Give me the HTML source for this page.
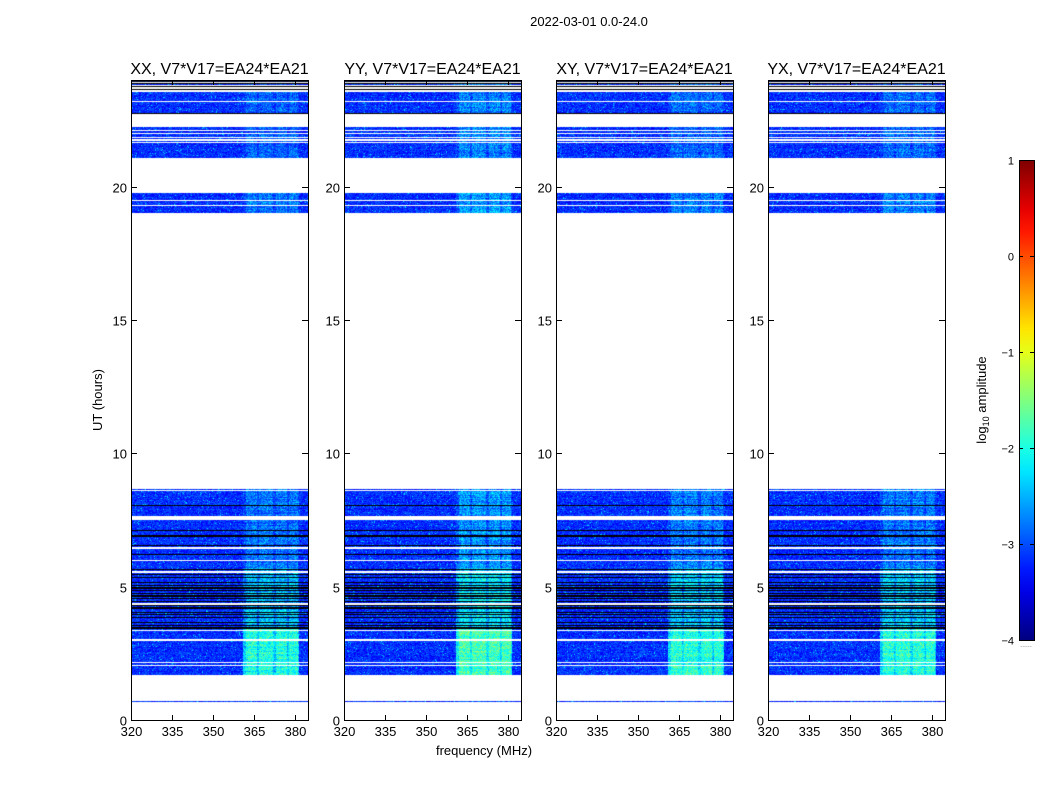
<!DOCTYPE html>
<html><head><meta charset="utf-8">
<style>
body{margin:0;background:#fff;width:1050px;height:800px;position:relative;overflow:hidden;font-family:"Liberation Sans","DejaVu Sans",sans-serif;}
canvas{position:absolute;z-index:1;}
svg{position:absolute;left:0;top:0;z-index:2;}
</style></head>
<body>
<svg id="svg" width="1050" height="800"></svg>
<script>
// ---- data ----
const panelTitles = ["XX, V7*V17=EA24*EA21","YY, V7*V17=EA24*EA21","XY, V7*V17=EA24*EA21","YX, V7*V17=EA24*EA21"];
const panelBoost = [0, 0.2, 0.05, 0.05];
const xTicks = [320,335,350,365,380];
const yTicks = [0,5,10,15,20];
const cbTicks = [1,0,-1,-2,-3,-4];
// observed time segments (hours)
const segStart = [0.66, 1.7, 7.66, 19.0, 21.07, 22.73, 23.0, 23.62];
const segEnd   = [0.73, 7.5, 8.68, 19.76, 22.24, 22.97, 23.55, 24.0];
// white gaps inside segments (hours)
const whiteLines = [2.05,2.15,3.0,3.35,4.35,5.55,5.98,6.45,8.62,19.3,19.48,21.64,21.75,21.86,21.98,22.12,23.2,23.7,23.8,23.9];
// dark flagged rows (hours)
const blackLines = [3.45,3.55,3.65,3.75,3.85,3.95,4.05,4.2,4.3,4.45,4.55,4.65,4.75,4.85,4.95,5.05,5.15,5.25,5.35,5.45,5.65,6.2,6.55,6.9,7.1,8.05,19.05,22.73,23.65,23.75,23.85,23.95];
// band brightness by time range (log10 amplitude)
const bandFrom = [1.7, 3.4, 5.7, 19.0, 21.0];
const bandTo   = [3.4, 5.7, 8.7, 19.8, 24.0];
const bandLevel= [-2.0,-2.45,-2.85,-2.8,-2.95];
// bright channel groups (MHz)
const chanFrom = [362,367,373,378];
const chanTo   = [366,372,377,381];
const baseLevel = -3.15;

// ---- layout ----
const panelX = [131,344,556,768], PW=177, PT=80, PB=720;
const xmin=320, xmax=384.8;
const xs = (f,i)=>panelX[i]+(f-xmin)/(xmax-xmin)*PW;
const ys = h=>PB-(h/24)*(PB-PT);

function jet(v){
  const c=x=>Math.max(0,Math.min(1,x));
  const r=c(1.5-Math.abs(4*v-3)), g=c(1.5-Math.abs(4*v-2)), b=c(1.5-Math.abs(4*v-1));
  return [r*255|0,g*255|0,b*255|0];
}
function hash(a,b,c){let h=(a*374761393+b*668265263+c*2147483647)|0;h=(h^(h>>>13))*1274126177;h=h^(h>>>16);return ((h>>>0)%10000)/10000;}

const svg=document.getElementById('svg');
const NS="http://www.w3.org/2000/svg";
function mk(tag,attrs,txt){const e=document.createElementNS(NS,tag);for(const k in attrs)e.setAttribute(k,attrs[k]);if(txt!==undefined)e.textContent=txt;svg.appendChild(e);return e;}
function inList(h,arr,tol){return arr.some(v=>Math.abs(v-h)<tol);}
const rowH=24/(PB-PT);

for(let p=0;p<4;p++){
  const cv=document.createElement('canvas');
  cv.width=PW;cv.height=PB-PT;
  cv.style.left=panelX[p]+'px';cv.style.top=PT+'px';
  
  
  document.body.appendChild(cv);
  const ctx=cv.getContext('2d');const img=ctx.createImageData(PW,PB-PT);
  for(let y=0;y<PB-PT;y++){
    const h=24-(y+0.5)*rowH;
    let inSeg=false;for(let s=0;s<segStart.length;s++)if(h>=segStart[s]&&h<=segEnd[s])inSeg=true;
    const isWhite=inList(h,whiteLines,rowH*0.55);
    const isBlack=inList(h,blackLines,rowH*0.5);
    let bl=-3.2;for(let s=0;s<bandFrom.length;s++)if(h>=bandFrom[s]&&h<bandTo[s])bl=bandLevel[s];
    const rowVar=(hash(y,3,p)-0.5)*0.3;
    for(let x=0;x<PW;x++){
      const i=(y*PW+x)*4;let col=[255,255,255];
      if(isBlack&&(inSeg||h>23.55)) col=[0,0,0];
      else if(inSeg&&!isWhite){
        const f=xmin+(x+0.5)/PW*(xmax-xmin);
        let n=hash(x,y,p);
        let v=baseLevel+rowVar*0.5+(n-0.5)*0.6+(n>0.97?0.5:0);
        if(f>=361&&f<=381.5){
          let inC=false;for(let c=0;c<chanFrom.length;c++)if(f>=chanFrom[c]&&f<=chanTo[c])inC=true;
          const lv=bl+panelBoost[p]+rowVar-(inC?0:0.35);
          v=Math.max(v,lv+(hash(y,x,p+7)-0.5)*0.8);
        }
        col=jet(Math.max(0,Math.min(1,(v+4)/5)));
      }
      img.data[i]=col[0];img.data[i+1]=col[1];img.data[i+2]=col[2];img.data[i+3]=255;
    }
  }
  ctx.putImageData(img,0,0);
}

for(let p=0;p<4;p++){
  const x0=panelX[p];
  const fr=mk('rect',{x:x0+0.5,y:PT+0.5,width:PW,height:PB-PT,fill:'none',stroke:'#000','stroke-width':1});
  
  const t=mk('text',{x:x0+PW/2,y:74,'text-anchor':'middle','font-size':16},panelTitles[p]);
  
  xTicks.forEach(v=>{const X=Math.round(xs(v,p))+0.5;
    mk('line',{x1:X,x2:X,y1:PB,y2:PB-5,stroke:'#000'});mk('line',{x1:X,x2:X,y1:PT,y2:PT+5,stroke:'#000'});
    const l=mk('text',{x:X,y:PB+16,'text-anchor':'middle','font-size':13},String(v));
    });
  yTicks.forEach(v=>{const Y=Math.round(ys(v))+0.5;
    mk('line',{x1:x0,x2:x0+6,y1:Y,y2:Y,stroke:'#000'});mk('line',{x1:x0+PW,x2:x0+PW-6,y1:Y,y2:Y,stroke:'#000'});
    const l=mk('text',{x:x0-4,y:Y+5,'text-anchor':'end','font-size':13},String(v));
    });
}
let e;
e=mk('text',{x:589,y:26,'text-anchor':'middle','font-size':13},'2022-03-01 0.0-24.0');
e=mk('text',{x:484,y:755,'text-anchor':'middle','font-size':13},'frequency (MHz)');
e=mk('text',{x:102,y:400,'text-anchor':'middle','font-size':13,transform:'rotate(-90 102 400)'},'UT (hours)');

const cbX=1019,cbW=15,cbT=160,cbB=640;
const defs=mk('defs',{});
const g=document.createElementNS(NS,'linearGradient');g.setAttribute('id','jetg');g.setAttribute('x1','0');g.setAttribute('y1','1');g.setAttribute('x2','0');g.setAttribute('y2','0');
for(let k=0;k<=20;k++){const c=jet(k/20);const s=document.createElementNS(NS,'stop');s.setAttribute('offset',k/20);s.setAttribute('stop-color',`rgb(${c[0]},${c[1]},${c[2]})`);g.appendChild(s);}
defs.appendChild(g);
e=mk('rect',{x:cbX+0.5,y:cbT+0.5,width:cbW,height:cbB-cbT,fill:'url(#jetg)',stroke:'#000'});
cbTicks.forEach(v=>{const Y=Math.round(cbB-(v+4)/5*(cbB-cbT))+0.5;
  mk('line',{x1:cbX,x2:cbX+4,y1:Y,y2:Y,stroke:'#000'});mk('line',{x1:cbX+cbW,x2:cbX+cbW-4,y1:Y,y2:Y,stroke:'#000'});
  const l=mk('text',{x:cbX-5,y:Y+4,'text-anchor':'end','font-size':11},v<0?'\u2212'+(-v):String(v));
  });
e=mk('text',{x:986,y:400,'text-anchor':'middle','font-size':13,transform:'rotate(-90 986 400)'});
e.innerHTML='log<tspan font-size="9" dy="3">10</tspan><tspan dy="-3"> amplitude</tspan>';

e=mk('text',{x:1026,y:647,'text-anchor':'middle','font-size':7,fill:'#666'},'......');
</script>
</body></html>
